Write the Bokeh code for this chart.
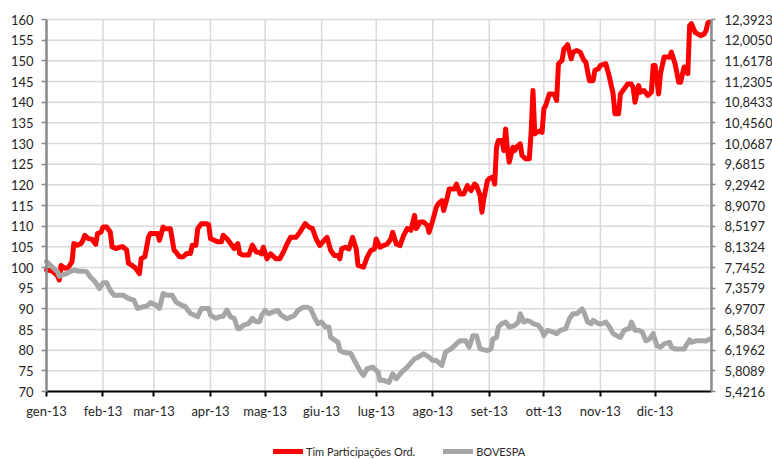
import pandas as pd
from bokeh.plotting import figure
from bokeh.models import Range1d, LinearAxis, FixedTicker, Legend, LegendItem
from bokeh.embed import file_html
from bokeh.resources import INLINE

# ---- data ----
tim_dates = [
    "2013-01-01", "2013-01-04", "2013-01-07", "2013-01-08", "2013-01-09", "2013-01-11", "2013-01-13", "2013-01-15",
    "2013-01-16", "2013-01-18", "2013-01-20", "2013-01-21", "2013-01-22", "2013-01-24", "2013-01-26", "2013-01-28",
    "2013-01-29", "2013-01-31", "2013-02-01", "2013-02-03", "2013-02-05", "2013-02-06", "2013-02-08", "2013-02-11",
    "2013-02-12", "2013-02-14", "2013-02-15", "2013-02-17", "2013-02-19", "2013-02-21", "2013-02-22", "2013-02-24",
    "2013-02-26", "2013-02-27", "2013-03-01", "2013-03-03", "2013-03-04", "2013-03-06", "2013-03-07", "2013-03-10",
    "2013-03-12", "2013-03-13", "2013-03-15", "2013-03-17", "2013-03-19", "2013-03-21", "2013-03-22", "2013-03-24",
    "2013-03-25", "2013-03-27", "2013-03-30", "2013-03-31", "2013-04-01", "2013-04-03", "2013-04-05", "2013-04-07",
    "2013-04-08", "2013-04-10", "2013-04-12", "2013-04-14", "2013-04-16", "2013-04-17", "2013-04-19", "2013-04-22",
    "2013-04-24", "2013-04-26", "2013-04-28", "2013-04-29", "2013-04-30", "2013-05-02", "2013-05-04", "2013-05-07",
    "2013-05-09", "2013-05-11", "2013-05-13", "2013-05-15", "2013-05-18", "2013-05-20", "2013-05-23", "2013-05-25",
    "2013-05-27", "2013-05-29", "2013-05-31", "2013-06-03", "2013-06-04", "2013-06-06", "2013-06-08", "2013-06-10",
    "2013-06-11", "2013-06-12", "2013-06-14", "2013-06-16", "2013-06-18", "2013-06-20", "2013-06-21", "2013-06-24",
    "2013-06-26", "2013-06-28", "2013-06-30", "2013-07-01", "2013-07-03", "2013-07-05", "2013-07-07", "2013-07-09",
    "2013-07-10", "2013-07-12", "2013-07-14", "2013-07-16", "2013-07-18", "2013-07-20", "2013-07-22", "2013-07-23",
    "2013-07-25", "2013-07-27", "2013-07-29", "2013-07-30", "2013-08-01", "2013-08-03", "2013-08-04", "2013-08-06",
    "2013-08-07", "2013-08-09", "2013-08-10", "2013-08-13", "2013-08-14", "2013-08-16", "2013-08-18", "2013-08-20",
    "2013-08-22", "2013-08-24", "2013-08-25", "2013-08-27", "2013-08-28", "2013-08-29", "2013-08-31", "2013-09-01",
    "2013-09-03", "2013-09-04", "2013-09-05", "2013-09-06", "2013-09-08", "2013-09-09", "2013-09-10", "2013-09-11",
    "2013-09-12", "2013-09-14", "2013-09-15", "2013-09-16", "2013-09-18", "2013-09-19", "2013-09-21", "2013-09-23",
    "2013-09-24", "2013-09-25", "2013-09-26", "2013-09-27", "2013-09-29", "2013-09-30", "2013-10-01", "2013-10-02",
    "2013-10-04", "2013-10-06", "2013-10-07", "2013-10-08", "2013-10-09", "2013-10-11", "2013-10-12", "2013-10-13",
    "2013-10-14", "2013-10-16", "2013-10-17", "2013-10-19", "2013-10-21", "2013-10-23", "2013-10-24", "2013-10-26",
    "2013-10-28", "2013-10-29", "2013-10-31", "2013-11-01", "2013-11-04", "2013-11-06", "2013-11-08", "2013-11-09",
    "2013-11-11", "2013-11-12", "2013-11-14", "2013-11-16", "2013-11-18", "2013-11-19", "2013-11-20", "2013-11-22",
    "2013-11-23", "2013-11-25", "2013-11-27", "2013-11-29", "2013-11-30", "2013-12-01", "2013-12-03", "2013-12-04",
    "2013-12-06", "2013-12-09", "2013-12-10", "2013-12-12", "2013-12-14", "2013-12-15", "2013-12-17", "2013-12-19",
    "2013-12-20", "2013-12-21", "2013-12-23", "2013-12-26", "2013-12-28", "2013-12-29", "2013-12-30", "2013-12-31",
]
tim_values = [
    99.4, 99.2, 98.0, 97.0, 100.5, 99.8, 100.0, 101.4,
    105.8, 105.4, 105.8, 106.6, 107.8, 107.0, 106.8, 105.6,
    108.2, 108.6, 109.8, 109.8, 108.6, 105.0, 104.6, 105.0,
    105.0, 104.2, 101.0, 100.5, 99.8, 98.5, 102.2, 102.6,
    107.4, 108.2, 108.2, 108.2, 106.6, 109.8, 109.4, 109.4,
    104.2, 103.8, 102.6, 102.6, 103.4, 103.4, 105.4, 105.4,
    109.4, 110.6, 110.6, 110.4, 107.0, 106.6, 106.2, 106.2,
    107.8, 107.0, 105.8, 104.6, 105.8, 103.4, 103.0, 103.0,
    105.4, 103.8, 103.6, 103.3, 104.9, 102.1, 103.3, 102.1,
    102.1, 103.7, 105.7, 107.3, 107.3, 108.5, 110.6, 109.8,
    109.4, 106.9, 105.3, 106.9, 107.3, 104.1, 102.9, 102.9,
    102.1, 104.5, 104.9, 104.5, 107.3, 104.5, 100.5, 100.1,
    102.5, 104.1, 104.5, 106.9, 104.9, 105.3, 105.7, 106.9,
    108.5, 105.7, 105.3, 107.7, 109.4, 109.0, 112.6, 109.4,
    111.0, 111.0, 110.2, 108.5, 111.4, 114.6, 115.4, 116.2,
    113.8, 117.0, 119.0, 119.0, 120.2, 117.8, 117.8, 119.8,
    118.6, 120.2, 119.8, 117.4, 113.4, 116.6, 121.0, 121.5,
    121.9, 120.2, 129.1, 130.7, 130.7, 128.3, 133.5, 128.7,
    125.5, 129.1, 128.3, 129.1, 129.9, 127.1, 126.3, 126.3,
    132.7, 142.8, 132.3, 132.7, 133.1, 132.7, 138.4, 139.2,
    142.0, 142.0, 141.6, 140.4, 149.3, 150.1, 152.9, 153.3,
    153.9, 150.5, 152.1, 152.5, 152.1, 150.1, 149.7, 145.2,
    145.2, 147.7, 148.1, 148.9, 149.3, 146.0, 142.0, 137.2,
    137.2, 142.0, 143.2, 144.4, 144.4, 143.5, 140.0, 144.0,
    142.4, 142.8, 141.6, 142.4, 148.9, 148.9, 142.0, 146.9,
    150.9, 150.9, 152.1, 149.3, 144.8, 144.8, 148.5, 146.9,
    158.5, 159.0, 156.9, 156.1, 156.5, 157.3, 159.2, 159.4,
]

bov_dates = [
    "2013-01-01", "2013-01-03", "2013-01-05", "2013-01-07", "2013-01-08", "2013-01-11", "2013-01-12", "2013-01-14",
    "2013-01-16", "2013-01-19", "2013-01-21", "2013-01-23", "2013-01-25", "2013-01-27", "2013-01-29", "2013-01-30",
    "2013-02-01", "2013-02-03", "2013-02-05", "2013-02-07", "2013-02-10", "2013-02-12", "2013-02-15", "2013-02-18",
    "2013-02-20", "2013-02-23", "2013-02-25", "2013-02-27", "2013-03-02", "2013-03-04", "2013-03-06", "2013-03-08",
    "2013-03-11", "2013-03-13", "2013-03-16", "2013-03-18", "2013-03-21", "2013-03-23", "2013-03-25", "2013-03-27",
    "2013-03-31", "2013-04-01", "2013-04-04", "2013-04-06", "2013-04-08", "2013-04-10", "2013-04-12", "2013-04-14",
    "2013-04-16", "2013-04-17", "2013-04-19", "2013-04-22", "2013-04-24", "2013-04-26", "2013-04-28", "2013-04-29",
    "2013-05-01", "2013-05-03", "2013-05-05", "2013-05-08", "2013-05-10", "2013-05-13", "2013-05-15", "2013-05-17",
    "2013-05-19", "2013-05-22", "2013-05-24", "2013-05-26", "2013-05-28", "2013-05-30", "2013-06-01", "2013-06-03",
    "2013-06-05", "2013-06-06", "2013-06-10", "2013-06-11", "2013-06-13", "2013-06-17", "2013-06-20", "2013-06-22",
    "2013-06-24", "2013-06-26", "2013-06-29", "2013-07-02", "2013-07-03", "2013-07-05", "2013-07-08", "2013-07-10",
    "2013-07-12", "2013-07-15", "2013-07-18", "2013-07-22", "2013-07-24", "2013-07-27", "2013-07-30", "2013-08-01",
    "2013-08-03", "2013-08-06", "2013-08-08", "2013-08-11", "2013-08-14", "2013-08-16", "2013-08-19", "2013-08-21",
    "2013-08-23", "2013-08-25", "2013-08-27", "2013-08-31", "2013-09-02", "2013-09-03", "2013-09-05", "2013-09-06",
    "2013-09-08", "2013-09-10", "2013-09-12", "2013-09-15", "2013-09-17", "2013-09-18", "2013-09-20", "2013-09-22",
    "2013-09-24", "2013-09-25", "2013-09-28", "2013-09-30", "2013-10-01", "2013-10-03", "2013-10-06", "2013-10-08",
    "2013-10-10", "2013-10-13", "2013-10-15", "2013-10-17", "2013-10-19", "2013-10-22", "2013-10-23", "2013-10-25",
    "2013-10-27", "2013-10-28", "2013-10-31", "2013-11-02", "2013-11-04", "2013-11-06", "2013-11-08", "2013-11-10",
    "2013-11-12", "2013-11-14", "2013-11-16", "2013-11-17", "2013-11-18", "2013-11-20", "2013-11-22", "2013-11-24",
    "2013-11-26", "2013-11-28", "2013-11-30", "2013-12-02", "2013-12-04", "2013-12-06", "2013-12-09", "2013-12-10",
    "2013-12-12", "2013-12-15", "2013-12-17", "2013-12-18", "2013-12-20", "2013-12-21", "2013-12-24", "2013-12-26",
    "2013-12-29", "2013-12-30", "2013-12-31",
]
bov_values = [
    101.4, 100.6, 99.8, 99.0, 97.9, 98.4, 98.5, 99.0,
    99.4, 99.1, 99.1, 99.0, 97.7, 96.9, 95.7, 94.9,
    96.3, 96.3, 94.5, 93.3, 93.3, 93.3, 92.5, 92.1,
    90.1, 90.5, 90.6, 91.5, 90.9, 90.1, 93.7, 93.3,
    93.3, 91.7, 90.9, 90.6, 88.9, 88.5, 88.1, 90.1,
    90.1, 88.5, 87.7, 88.1, 88.2, 89.7, 88.1, 87.7,
    85.2, 85.2, 86.0, 86.5, 87.7, 86.9, 86.9, 88.4,
    89.6, 88.8, 89.2, 89.6, 88.4, 87.6, 88.0, 88.4,
    89.6, 90.4, 90.4, 90.0, 88.0, 86.4, 86.8, 85.6,
    85.6, 83.1, 81.9, 79.9, 79.5, 79.2, 76.7, 75.1,
    73.9, 75.5, 75.9, 74.7, 72.7, 72.7, 72.2, 74.3,
    73.1, 74.7, 75.9, 77.9, 78.3, 79.1, 78.3, 77.5,
    77.5, 76.3, 79.5, 80.3, 81.5, 82.3, 82.3, 80.7,
    83.5, 83.5, 80.3, 79.9, 80.3, 82.7, 83.1, 85.6,
    86.4, 86.8, 85.6, 86.0, 86.8, 88.8, 86.8, 87.2,
    86.8, 86.4, 86.0, 84.8, 83.5, 84.8, 84.4, 84.0,
    84.8, 85.2, 87.6, 88.8, 88.8, 90.0, 89.2, 86.8,
    86.4, 87.2, 86.4, 86.4, 86.8, 85.6, 84.0, 83.5,
    83.1, 84.8, 85.2, 85.2, 86.8, 84.8, 84.8, 84.4,
    82.3, 82.7, 84.0, 81.1, 80.7, 81.5, 81.9, 80.7,
    80.3, 80.3, 80.3, 81.1, 82.5, 81.9, 82.3, 82.3,
    82.2, 82.5, 82.7,
]

month_starts = ["2013-01-01", "2013-02-01", "2013-03-01", "2013-04-01", "2013-05-01", "2013-06-01",
                "2013-07-01", "2013-08-01", "2013-09-01", "2013-10-01", "2013-11-01", "2013-12-01"]
month_labels = ["gen-13", "feb-13", "mar-13", "apr-13", "mag-13", "giu-13",
                "lug-13", "ago-13", "set-13", "ott-13", "nov-13", "dic-13"]
left_ticks = [70, 75, 80, 85, 90, 95, 100, 105, 110, 115, 120, 125, 130, 135, 140, 145, 150, 155, 160]
right_labels = ["5,4216", "5,8089", "6,1962", "6,5834", "6,9707", "7,3579", "7,7452", "8,1324", "8,5197",
                "8,9070", "9,2942", "9,6815", "10,0687", "10,4560", "10,8433", "11,2305", "11,6178",
                "12,0050", "12,3923"]
x_start, x_end = "2013-01-01", "2014-01-01"
series_names = ["Tim Participações Ord.", "BOVESPA"]


def ms(s):
    return pd.Timestamp(s).value / 1e6


FONT = "Lato"
FS = "13px"
TXT = "#262626"

# ---- layout (pixels) ----
W, H = 772, 459
LEFT, RIGHT, TOP = 46, 61, 19      # margins around the plotting band
PLOT_W, PLOT_H = W - LEFT - RIGHT, 372

x0, x1 = ms(x_start), ms(x_end)
y_lo, y_hi = left_ticks[0], left_ticks[-1]
mpp = (x1 - x0) / PLOT_W           # data units per pixel (x)
vpp = (y_hi - y_lo) / PLOT_H       # data units per pixel (y)

# the frame covers the whole canvas, so no text is clipped; axes sit at fixed locations
p = figure(width=W, height=H, x_axis_type="datetime",
           x_range=Range1d(x0 - LEFT * mpp, x1 + RIGHT * mpp),
           y_range=Range1d(y_hi - (H - TOP) * vpp, y_hi + TOP * vpp),
           output_backend="svg", toolbar_location=None,
           min_border_left=0, min_border_right=0, min_border_top=0, min_border_bottom=0)
p.outline_line_color = None
p.background_fill_color = "white"
p.xgrid.visible = False
p.ygrid.visible = False

month_ms = [ms(d) for d in month_starts]

# grid lines limited to the plotting band
p.segment(x0=month_ms, x1=month_ms, y0=[y_lo] * len(month_ms), y1=[y_hi] * len(month_ms),
          line_color="#d9d9d9", line_width=1.5, level="underlay")
p.segment(x0=[x0] * len(left_ticks), x1=[x1] * len(left_ticks), y0=left_ticks, y1=left_ticks,
          line_color="#d9d9d9", line_width=1.5, level="underlay")

r1 = p.line(pd.to_datetime(tim_dates), tim_values, line_color="#ff0000", line_width=5,
            line_join="round", line_cap="round")
r2 = p.line(pd.to_datetime(bov_dates), bov_values, line_color="#a6a6a6", line_width=5,
            line_join="round", line_cap="round")

# x axis at y = 70
xa = p.xaxis[0]
xa.fixed_location = y_lo
xa.bounds = (x0, x1)
xa.ticker = FixedTicker(ticks=month_ms)
xa.major_label_overrides = {t: lab for t, lab in zip(month_ms, month_labels)}
xa.axis_line_color = "black"
xa.axis_line_width = 2
xa.major_tick_line_color = "black"
xa.major_tick_line_width = 2
xa.major_tick_out = 5
xa.major_tick_in = 0
xa.minor_tick_line_color = None
xa.major_label_standoff = 6
xa.major_label_text_font = FONT
xa.major_label_text_font_size = FS
xa.major_label_text_color = TXT

# left y axis at the first day
ya = p.yaxis[0]
ya.fixed_location = x0
ya.bounds = (y_lo, y_hi)
ya.ticker = FixedTicker(ticks=left_ticks)
ya.axis_line_color = "#8a8a8a"
ya.axis_line_width = 2.5
ya.major_tick_line_color = "#8a8a8a"
ya.major_tick_line_width = 1.5
ya.major_tick_out = 5
ya.major_tick_in = 0
ya.minor_tick_line_color = None
ya.major_label_standoff = 8
ya.major_label_text_font = FONT
ya.major_label_text_font_size = FS
ya.major_label_text_color = TXT

# right y axis at the end of the year
ra = LinearAxis(ticker=FixedTicker(ticks=left_ticks), bounds=(y_lo, y_hi), fixed_location=x1,
                major_label_overrides={t: lab for t, lab in zip(left_ticks, right_labels)})
ra.axis_line_color = "#8a8a8a"
ra.axis_line_width = 2.5
ra.major_tick_line_color = "#8a8a8a"
ra.major_tick_line_width = 1.5
ra.major_tick_out = 4
ra.major_tick_in = 0
ra.minor_tick_line_color = None
ra.major_label_standoff = 9
ra.major_label_text_font = FONT
ra.major_label_text_font_size = FS
ra.major_label_text_color = TXT
p.add_layout(ra, "right")

legend = Legend(items=[LegendItem(label=series_names[0], renderers=[r1]),
                       LegendItem(label=series_names[1], renderers=[r2])],
                orientation="horizontal", location=(LEFT + 227, 1),
                border_line_color=None, background_fill_alpha=0,
                glyph_width=30, glyph_height=10, label_height=14, label_standoff=3, spacing=28,
                padding=0, margin=0,
                label_text_font=FONT, label_text_font_size="11px", label_text_color=TXT)
p.add_layout(legend, "center")

open("out.html", "w").write(file_html(p, INLINE))
